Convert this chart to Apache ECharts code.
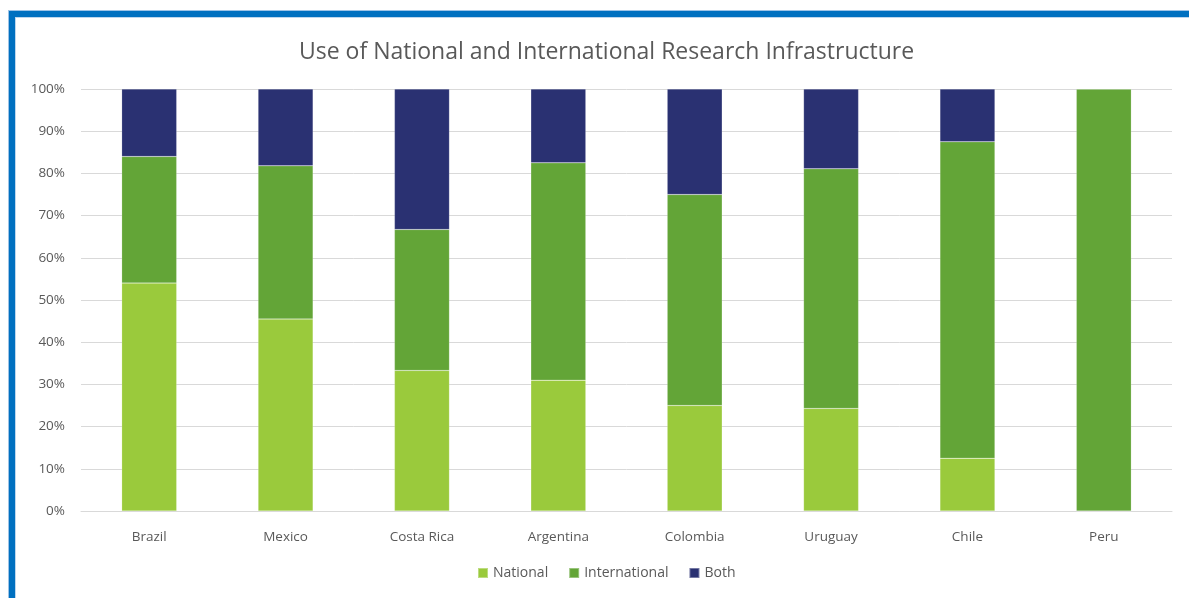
<!DOCTYPE html>
<html>
<head>
<meta charset="utf-8">
<script src="https://cdn.jsdelivr.net/npm/echarts@6/dist/echarts.min.js"></script>
<style>
  html, body { margin: 0; padding: 0; background: #fff; }
  #chart { width: 1189px; height: 598px; }
  #frame {
    position: absolute; left: 8px; top: 10px; width: 1200px; height: 620px;
    border: 1px solid #9dc3e6; pointer-events: none;
  }
  #frame::before {
    content: ''; position: absolute; left: 0; top: 0; right: 0; bottom: 0;
    border: 6px solid #0070c0;
  }
  #frame::after {
    content: ''; position: absolute; left: 6px; top: 6px; right: 0; bottom: 0;
    border: 1px solid #bdd7ee;
  }
</style>
</head>
<body>
<div id="chart"></div>
<div id="frame"></div>
<script>
const countries = ['Brazil', 'Mexico', 'Costa Rica', 'Argentina', 'Colombia', 'Uruguay', 'Chile', 'Peru'];
const national = [54, 45.5, 33.3, 31, 25, 24.3, 12.5, 0];
const international = [30, 36.3, 33.4, 51.5, 50, 56.8, 75, 100];
const both = [16, 18.2, 33.3, 17.5, 25, 18.9, 12.5, 0];

const chart = echarts.init(document.getElementById('chart'));
const font = 'Open Sans';

function bar(name, data, color) {
  return {
    name, type: 'bar', stack: 'total', data, barWidth: 55,
    itemStyle: { color, borderColor: 'rgba(255,255,255,0.35)', borderWidth: 0.5 },
  };
}

chart.setOption({
  backgroundColor: '#fff',
  animation: false,
  title: {
    text: 'Use of National and International Research Infrastructure',
    left: 294, top: 36,
    textStyle: { fontFamily: font, fontSize: 23, fontWeight: 'normal', color: '#595959' },
  },
  legend: {
    bottom: 13, left: 472, itemWidth: 10, itemHeight: 10, itemGap: 20,
    icon: 'rect',
    textStyle: { fontFamily: font, fontSize: 14, color: '#595959' },
  },
  grid: { left: 81, right: 17, top: 89, bottom: 87 },
  xAxis: {
    type: 'category', data: countries,
    axisLine: { lineStyle: { color: '#d9d9d9' } },
    axisTick: { show: false },
    axisLabel: { fontFamily: font, fontSize: 13.5, color: '#595959', margin: 19 },
  },
  yAxis: {
    type: 'value', min: 0, max: 100, interval: 10,
    axisLabel: { formatter: '{value}%', fontFamily: font, fontSize: 13.5, color: '#595959', margin: 16 },
    splitLine: { lineStyle: { color: '#d9d9d9' } },
  },
  series: [
    bar('National', national, '#9aca3c'),
    bar('International', international, '#63a537'),
    bar('Both', both, '#2a3172'),
  ],
});
</script>
</body>
</html>
